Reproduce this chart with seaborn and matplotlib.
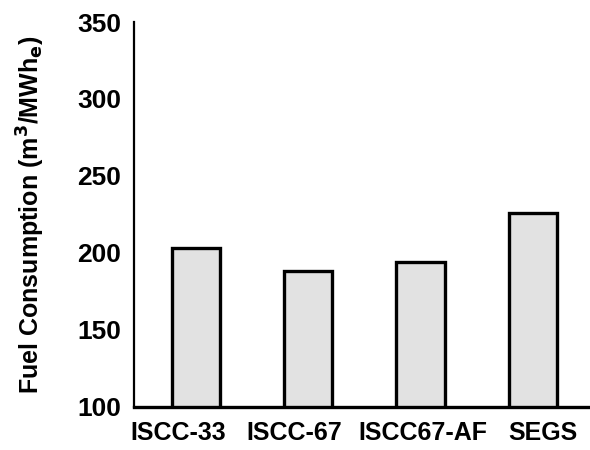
import pandas as pd
import seaborn as sns
import matplotlib.pyplot as plt
from matplotlib.transforms import ScaledTranslation

# Fuel consumption per plant configuration
plants = ['ISCC-33', 'ISCC-67', 'ISCC67-AF', 'SEGS']
fuel = [203, 188, 194, 226]
y_ticks = [100, 150, 200, 250, 300, 350]

df = pd.DataFrame({'Plant': plants, 'Fuel': fuel})

sns.set_style('white')
plt.rcParams['font.family'] = ['Liberation Sans', 'DejaVu Sans']

fig = plt.figure(figsize=(5.9, 4.5), dpi=100)
ax = fig.add_axes([0.227, 0.096, 0.80, 0.855])

sns.barplot(data=df, x='Plant', y='Fuel', color='#e2e2e2', width=0.43,
            edgecolor='black', linewidth=2.4, saturation=1, ax=ax)

ax.set_ylim(100, 350)
ax.set_xlim(-0.55, 3.65)
ax.set_yticks(y_ticks)
ax.set_yticklabels([str(t) for t in y_ticks], fontsize=19, fontweight='bold',
                   color='black')
ax.set_xticks(range(len(plants)))
ax.set_xticklabels(plants, fontsize=18, fontweight='bold', color='black')
ax.tick_params(axis='y', direction='inout', length=6, width=1, pad=6)
ax.tick_params(axis='x', length=0, pad=10)

# the category labels sit a bit off-centre in the original so they don't collide
shifts = [-18, -14, 2, 10]  # pixels
for lab, dx in zip(ax.get_xticklabels(), shifts):
    lab.set_transform(lab.get_transform() + ScaledTranslation(dx / 100, 0, fig.dpi_scale_trans))

# Only left and bottom axis lines
ax.spines['top'].set_visible(False)
ax.spines['right'].set_visible(False)
ax.spines['left'].set_linewidth(1.6)
ax.spines['bottom'].set_linewidth(2.4)
for s in ['left', 'bottom']:
    ax.spines[s].set_color('black')

ax.set_xlabel('')
ax.set_ylabel(r'Fuel Consumption (m$^\mathbf{3}$/MWh$_\mathbf{e}$)',
              fontsize=18, fontweight='bold', color='black', labelpad=22)

plt.savefig('out.png', dpi=100)
plt.close()
